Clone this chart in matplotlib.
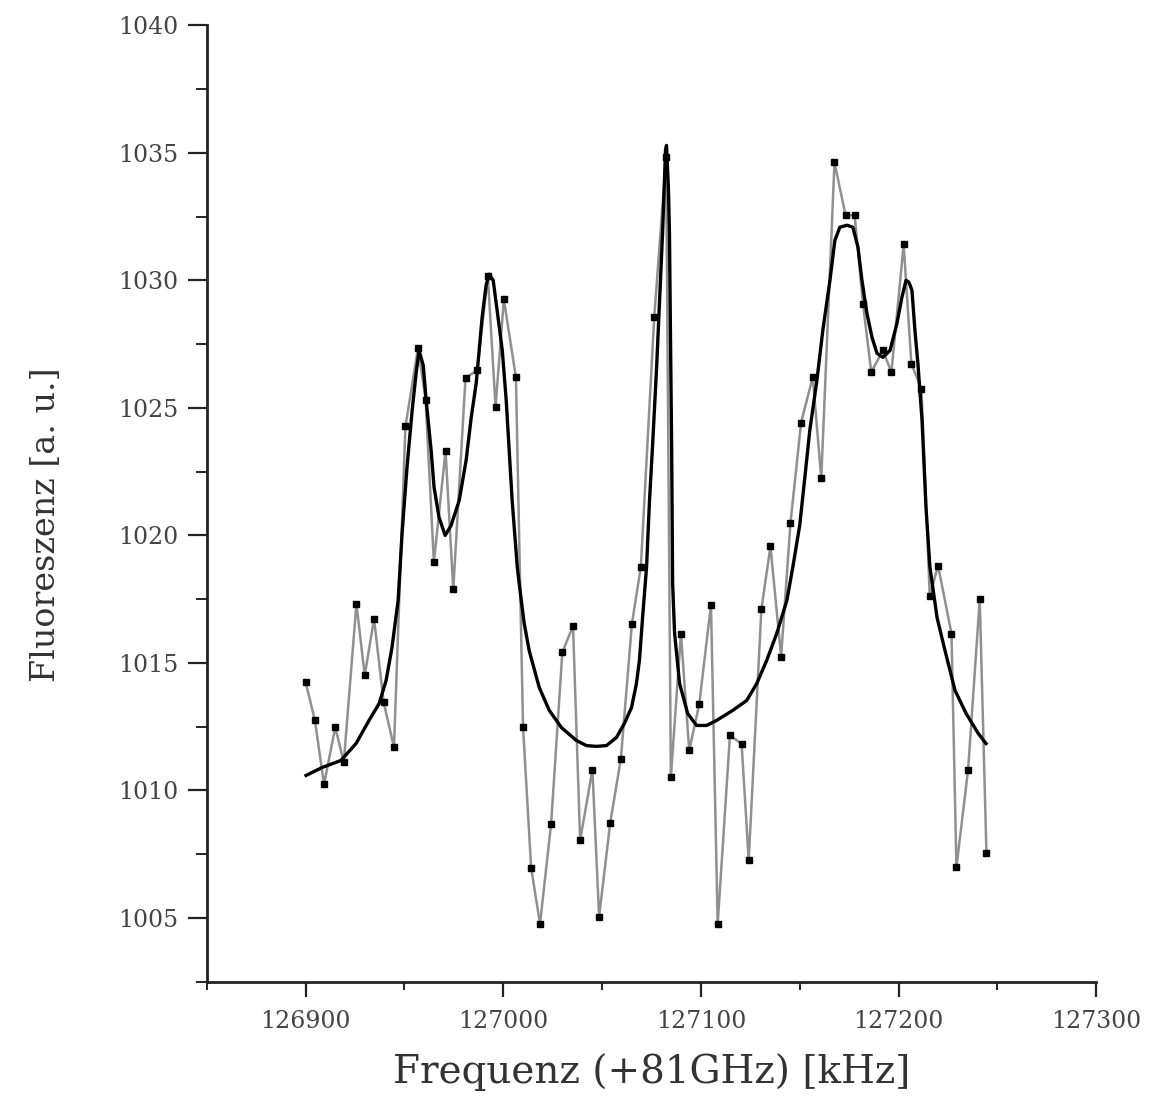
import matplotlib
matplotlib.use('Agg')
import matplotlib.pyplot as plt
from matplotlib.ticker import MultipleLocator, FormatStrFormatter

freq = [126900.0, 126904.7, 126909.3, 126915.0, 126919.3, 126925.7, 126929.9, 126934.6,
        126939.5, 126944.7, 126950.5, 126956.9, 126960.7, 126964.9, 126970.8, 126974.7,
        126980.9, 126986.8, 126992.2, 126996.1, 127000.3, 127006.4, 127010.0, 127014.1,
        127018.6, 127024.2, 127029.9, 127035.3, 127038.9, 127045.1, 127048.5, 127054.1,
        127059.5, 127065.1, 127069.6, 127076.4, 127082.4, 127084.8, 127089.9, 127094.1,
        127099.2, 127105.1, 127108.5, 127114.7, 127120.6, 127124.2, 127130.6, 127135.2,
        127140.6, 127145.3, 127150.7, 127156.6, 127160.9, 127167.6, 127173.2, 127177.8,
        127182.0, 127186.2, 127192.1, 127196.4, 127202.6, 127206.5, 127211.6, 127215.8,
        127220.0, 127226.8, 127229.3, 127235.2, 127241.1, 127244.5]
fluor = [1014.25, 1012.75, 1010.24, 1012.48, 1011.10, 1017.32, 1014.51, 1016.73,
         1013.45, 1011.70, 1024.27, 1027.36, 1025.32, 1018.95, 1023.31, 1017.88,
         1026.18, 1026.47, 1030.16, 1025.03, 1029.25, 1026.20, 1012.49, 1006.98,
         1004.77, 1008.69, 1015.42, 1016.45, 1008.04, 1010.82, 1005.06, 1008.72,
         1011.24, 1016.54, 1018.76, 1028.56, 1034.82, 1010.52, 1016.15, 1011.57,
         1013.40, 1017.28, 1004.77, 1012.16, 1011.83, 1007.28, 1017.10, 1019.57,
         1015.25, 1020.47, 1024.42, 1026.21, 1022.24, 1034.62, 1032.55, 1032.55,
         1029.09, 1026.40, 1027.25, 1026.40, 1031.41, 1026.73, 1025.75, 1017.62,
         1018.82, 1016.15, 1006.99, 1010.81, 1017.49, 1007.54]

# fit curve
fit_freq = [126900.2, 126908.3, 126917.9, 126925.5, 126932.1, 126937.2, 126940.7, 126943.7,
            126946.8, 126948.8, 126951.3, 126953.9, 126955.9, 126957.4, 126959.5, 126961.0,
            126963.5, 126965.0, 126967.5, 126970.6, 126973.6, 126977.7, 126981.2, 126983.8,
            126986.3, 126987.8, 126989.3, 126991.3, 126992.9, 126994.9, 126996.9, 126999.5,
            127001.5, 127003.0, 127004.5, 127007.1, 127009.1, 127010.6, 127013.1, 127018.2,
            127023.3, 127029.4, 127037.0, 127042.1, 127047.1, 127052.2, 127057.3, 127061.3,
            127064.9, 127067.4, 127068.9, 127070.5, 127072.5, 127074.0, 127075.5, 127077.6,
            127079.1, 127080.6, 127082.1, 127082.6, 127083.6, 127084.1, 127084.6, 127085.2,
            127085.7, 127086.7, 127089.2, 127093.3, 127097.8, 127102.9, 127108.0, 127116.1,
            127123.2, 127128.3, 127133.3, 127138.4, 127143.5, 127146.5, 127150.0, 127152.6,
            127155.1, 127158.7, 127161.7, 127165.3, 127167.8, 127170.3, 127173.9, 127176.9,
            127179.5, 127181.5, 127184.0, 127186.6, 127189.1, 127192.1, 127195.7, 127199.2,
            127201.7, 127203.8, 127205.3, 127206.8, 127208.3, 127209.8, 127211.9, 127213.9,
            127215.9, 127219.5, 127223.5, 127228.6, 127234.2, 127240.3, 127244.3]
fit_fluor = [1010.59, 1010.90, 1011.18, 1011.84, 1012.75, 1013.41, 1014.31, 1015.61,
             1017.45, 1020.08, 1022.67, 1024.90, 1026.35, 1027.25, 1026.67, 1025.29,
             1023.33, 1021.88, 1020.71, 1020.00, 1020.39, 1021.37, 1022.94, 1024.63,
             1025.96, 1027.25, 1028.55, 1029.80, 1030.24, 1030.00, 1028.82, 1027.25,
             1025.29, 1023.33, 1021.37, 1018.75, 1017.45, 1016.55, 1015.49, 1014.04,
             1013.14, 1012.47, 1011.96, 1011.76, 1011.73, 1011.76, 1012.08, 1012.63,
             1013.25, 1014.20, 1015.10, 1016.78, 1018.75, 1021.37, 1023.45, 1026.59,
             1029.22, 1031.84, 1035.10, 1035.29, 1033.53, 1031.84, 1027.92, 1023.45,
             1018.12, 1016.16, 1014.20, 1013.02, 1012.55, 1012.55, 1012.75, 1013.14,
             1013.53, 1014.20, 1015.10, 1016.16, 1017.45, 1018.75, 1020.39, 1022.27,
             1024.12, 1026.08, 1028.04, 1030.00, 1031.57, 1032.08, 1032.16, 1032.08,
             1031.29, 1030.00, 1028.71, 1027.76, 1027.14, 1026.98, 1027.25, 1028.31,
             1029.33, 1030.00, 1029.92, 1029.61, 1028.04, 1026.75, 1024.51, 1021.10,
             1018.75, 1016.78, 1015.49, 1013.92, 1013.02, 1012.24, 1011.84]

plt.rcParams['font.family'] = ['DejaVu Serif']

fig = plt.figure(figsize=(11.49, 10.97), dpi=100)
ax = fig.add_axes([0.180, 0.105, 0.774, 0.872])

ax.plot(freq, fluor, color='#909090', lw=1.8, zorder=2)
ax.plot(fit_freq, fit_fluor, color='black', lw=2.4, zorder=3)
ax.plot(freq, fluor, ls='none', marker='s', ms=4.5, color='black', zorder=4)

ax.set_xlim(126850, 127300)
ax.set_ylim(1002.5, 1040)

for side in ['top', 'right']:
    ax.spines[side].set_visible(False)
for side in ['left', 'bottom']:
    ax.spines[side].set_linewidth(2)
    ax.spines[side].set_color('#222222')

ax.xaxis.set_major_locator(MultipleLocator(100))
ax.xaxis.set_minor_locator(MultipleLocator(50))
ax.yaxis.set_major_locator(MultipleLocator(5))
ax.yaxis.set_minor_locator(MultipleLocator(2.5))
ax.xaxis.set_major_formatter(FormatStrFormatter('%d'))
ax.yaxis.set_major_formatter(FormatStrFormatter('%d'))

ax.tick_params(axis='x', which='major', direction='out', length=11, width=1.6,
               pad=9, labelsize=17, colors='#222222', labelcolor='#444444')
ax.tick_params(axis='x', which='minor', direction='out', length=5.8, width=1.4, colors='#222222')
ax.tick_params(axis='y', which='major', direction='out', length=14, width=1.6,
               pad=6.5, labelsize=17, colors='#222222', labelcolor='#444444')
ax.tick_params(axis='y', which='minor', direction='out', length=8, width=1.4, colors='#222222')

ax.set_xlabel('Frequenz (+81GHz) [kHz]', fontsize=28, color='#333333')
ax.set_ylabel('Fluoreszenz [a. u.]', fontsize=24, color='#333333')
ax.xaxis.set_label_coords(0.5, -0.075)
ax.yaxis.set_label_coords(-0.163, 0.478)

fig.savefig('out.png', dpi=100, facecolor='white')
